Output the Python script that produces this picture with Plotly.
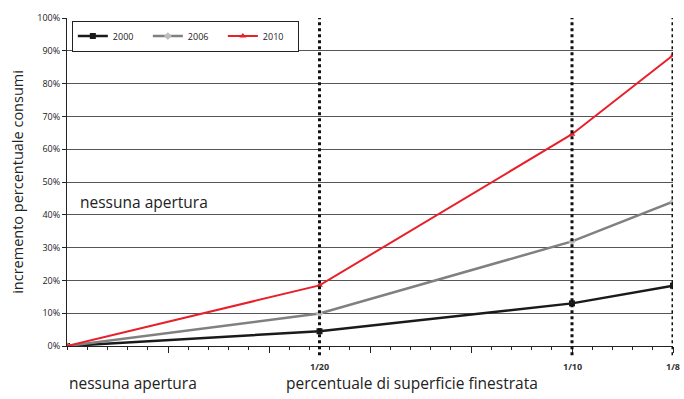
import plotly.graph_objects as go

# Window-to-floor ratio (0 = no openings) and percentage increase of consumption
ratios = [0.0, 0.05, 0.10, 0.12]
ratio_labels = ["1/20", "1/10", "1/8"]
years = ["2000", "2006", "2010"]
increase_2000 = [0.0, 0.045, 0.13, 0.184]
increase_2006 = [0.0, 0.099, 0.319, 0.44]
increase_2010 = [0.0, 0.185, 0.646, 0.887]
y_ticks = [i / 10 for i in range(11)]
y_tick_text = [f"{i * 10}%" for i in range(11)]

FONT = "Open Sans"

series = [
    (years[0], increase_2000, "#1a1a1a", "square", "#1a1a1a", 2.5),
    (years[1], increase_2006, "#808080", "diamond", "#bdbdbd", 2.5),
    (years[2], increase_2010, "#e8202a", "triangle-up", "#e8202a", 2.0),
]

fig = go.Figure()
for name, vals, color, sym, mcolor, lw in series:
    fig.add_trace(go.Scatter(
        x=ratios, y=vals, name=name, mode="lines+markers",
        line=dict(color=color, width=lw),
        marker=dict(symbol=sym, size=6, color=mcolor),
    ))

# Dotted vertical guides at each window ratio
for r, lab in zip(ratios[1:], ratio_labels):
    fig.add_shape(type="line", xref="x", yref="paper", x0=r, x1=r,
                  y0=-0.028, y1=1, line=dict(color="#111", width=3, dash="dot"),
                  layer="above")
    fig.add_annotation(x=r, xref="x", y=-0.062, yref="paper", text=f"<b>{lab}</b>",
                       showarrow=False, font=dict(family=FONT, size=9, color="#333"),
                       yanchor="middle")

fig.add_annotation(x=0.0021, xref="x", y=0.44, yref="paper", text="nessuna apertura",
                   showarrow=False, xanchor="left", yanchor="middle",
                   font=dict(family=FONT, size=15.5, color="#222"))
fig.add_annotation(x=0.0, xref="paper", y=-0.114, yref="paper", text="nessuna apertura",
                   showarrow=False, xanchor="left", yanchor="middle",
                   font=dict(family=FONT, size=15.5, color="#222"))
fig.add_annotation(x=0.57, xref="paper", y=-0.114, yref="paper",
                   text="percentuale di superficie finestrata",
                   showarrow=False, xanchor="center", yanchor="middle",
                   font=dict(family=FONT, size=15.5, color="#222"))

fig.update_layout(
    width=684, height=399,
    margin=dict(l=67, r=11, t=14, b=53),
    paper_bgcolor="white", plot_bgcolor="white",
    font=dict(family=FONT, color="#222"),
    showlegend=True,
    legend=dict(orientation="h", x=0.008, y=0.992, xanchor="left", yanchor="top",
                bordercolor="#222", borderwidth=1, bgcolor="white",
                font=dict(family=FONT, size=9), entrywidth=30, itemwidth=30,
                tracegroupgap=0),
    xaxis=dict(range=[0, 0.12], showgrid=False, zeroline=False,
               showline=True, linecolor="#222", linewidth=1,
               tickvals=[0.02, 0.04, 0.06, 0.08, 0.10, 0.12], ticks="outside",
               ticklen=6, tickcolor="#222", showticklabels=False,
               minor=dict(dtick=0.004, tick0=0, ticks="outside", ticklen=3,
                          tickcolor="#222", showgrid=False)),
    yaxis=dict(range=[0, 1.0005], tickvals=y_ticks, ticktext=y_tick_text,
               showgrid=True, gridcolor="#555", gridwidth=1, zeroline=False,
               showline=True, linecolor="#222", linewidth=1,
               ticks="outside", ticklen=4, tickcolor="#222",
               tickfont=dict(family=FONT, size=9, color="#222"),
               title=dict(text="incremento percentuale consumi", standoff=10,
                          font=dict(family=FONT, size=14.5, color="#222"))),
)

fig.write_html("out.html")
